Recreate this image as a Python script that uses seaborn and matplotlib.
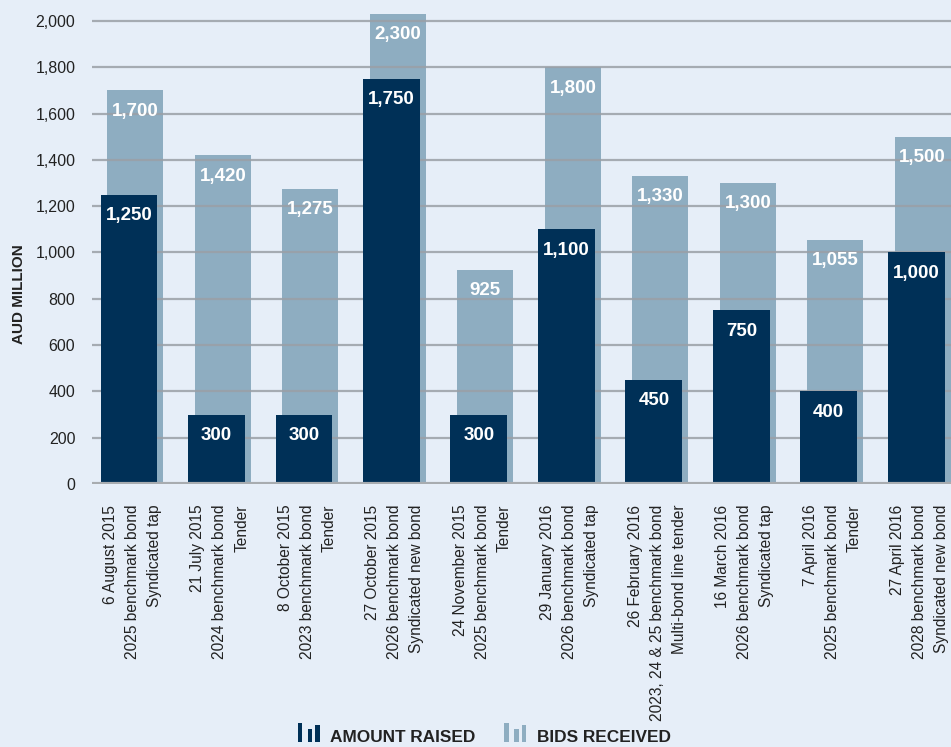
import pandas as pd
import matplotlib
matplotlib.use("Agg")
import matplotlib.pyplot as plt
import matplotlib.patches as mpatches
from matplotlib.legend_handler import HandlerBase
import seaborn as sns

# data
deals = [
    "6 August 2015\n2025 benchmark bond\nSyndicated tap",
    "21 July 2015\n2024 benchmark bond\nTender",
    "8 October 2015\n2023 benchmark bond\nTender",
    "27 October 2015\n2026 benchmark bond\nSyndicated new bond",
    "24 November 2015\n2025 benchmark bond\nTender",
    "29 January 2016\n2026 benchmark bond\nSyndicated tap",
    "26 February 2016\n2023, 24 & 25 benchmark bond\nMulti-bond line tender",
    "16 March 2016\n2026 benchmark bond\nSyndicated tap",
    "7 April 2016\n2025 benchmark bond\nTender",
    "27 April 2016\n2028 benchmark bond\nSyndicated new bond",
]
amount_raised = [1250, 300, 300, 1750, 300, 1100, 450, 750, 400, 1000]
bids_received = [1700, 1420, 1275, 2300, 925, 1800, 1330, 1300, 1055, 1500]
yticks = [0, 200, 400, 600, 800, 1000, 1200, 1400, 1600, 1800, 2000]

BG = "#e6eef8"
DARK = "#003057"
LIGHT = "#8eadc1"
GRID = "#9aa0a6"
TXT = "#222222"
FONT = ["Liberation Sans", "DejaVu Sans"]

sns.set_style("white")
plt.rcParams["font.family"] = FONT

df = pd.DataFrame({"deal": deals, "raised": amount_raised, "bids": bids_received})

fig = plt.figure(figsize=(9.51, 7.47), dpi=100, facecolor=BG)
ax = fig.add_axes([92 / 951, 1 - 484 / 747, 1 - 92 / 951, (484 - 14) / 747])
ax.set_facecolor(BG)

YMAX = 2030
SHIFT = 0.037

# bids behind
sns.barplot(data=df, x="deal", y="bids", color=LIGHT, saturation=1,
            width=0.64, ax=ax, zorder=1, order=deals, linewidth=0,
            edgecolor="none")
n = len(deals)
for p in ax.patches[:n]:
    p.set_x(p.get_x() + SHIFT)
# amount raised in front
sns.barplot(data=df, x="deal", y="raised", color=DARK, saturation=1,
            width=0.65, ax=ax, zorder=3, order=deals, linewidth=0,
            edgecolor="none")
for p in ax.patches[n:]:
    p.set_x(p.get_x() - SHIFT)

# value labels
for p in ax.patches:
    h = p.get_height()
    ax.annotate(f"{int(h):,}", (p.get_x() + p.get_width() / 2, min(h, YMAX)),
                xytext=(0, -15), textcoords="offset points",
                ha="center", va="center", color="white",
                fontsize=13.5, fontweight="bold", zorder=5,
                annotation_clip=False)

ax.set_ylim(0, YMAX)
ax.set_xlim(-0.46, 9.36)
ax.set_yticks(yticks)
ax.set_yticklabels([f"{t:,}" for t in yticks], fontsize=11.5, color=TXT)
ax.set_xticks(range(n))
ax.set_xticklabels(deals, rotation=90, ha="center", va="top",
                   multialignment="right", fontsize=11.2, color=TXT,
                   linespacing=1.58)
ax.tick_params(axis="both", length=0)
ax.tick_params(axis="y", pad=12)
ax.tick_params(axis="x", pad=15)
ax.set_xlabel("")
ax.set_ylabel("AUD MILLION", fontsize=11, fontweight="bold", color=TXT)
ax.yaxis.set_label_coords(-0.0765, 0.405)

for y in yticks[1:]:
    ax.axhline(y, color=GRID, lw=1.6, zorder=2, alpha=0.85)
ax.axhline(0, color="#a8acb0", lw=3, zorder=4)
for s in ax.spines.values():
    s.set_visible(False)


class BarIcon(HandlerBase):
    # little three-bar glyph used in the legend
    def create_artists(self, legend, orig_handle, xdescent, ydescent,
                       width, height, fontsize, trans):
        col = orig_handle.get_facecolor()
        w = width * 0.196
        arts = []
        for xf, hf in zip([0, 0.446, 0.79], [1.1, 0.77, 1.0]):
            r = mpatches.Rectangle((-xdescent + xf * width, -ydescent),
                                   w, fontsize * hf, facecolor=col,
                                   edgecolor="none", transform=trans)
            arts.append(r)
        return arts


handles = [mpatches.Patch(color=DARK, label="AMOUNT RAISED"),
           mpatches.Patch(color=LIGHT, label="BIDS RECEIVED")]
leg = fig.legend(handles=handles, loc="center", bbox_to_anchor=(0.509, 0.013),
                 ncol=2, frameon=False, handler_map={mpatches.Patch: BarIcon()},
                 prop={"family": FONT, "weight": "bold", "size": 12.4},
                 handlelength=1.3, handletextpad=0.58, columnspacing=1.68)
for t in leg.get_texts():
    t.set_color(TXT)

fig.savefig("out.png", dpi=100, facecolor=BG)
